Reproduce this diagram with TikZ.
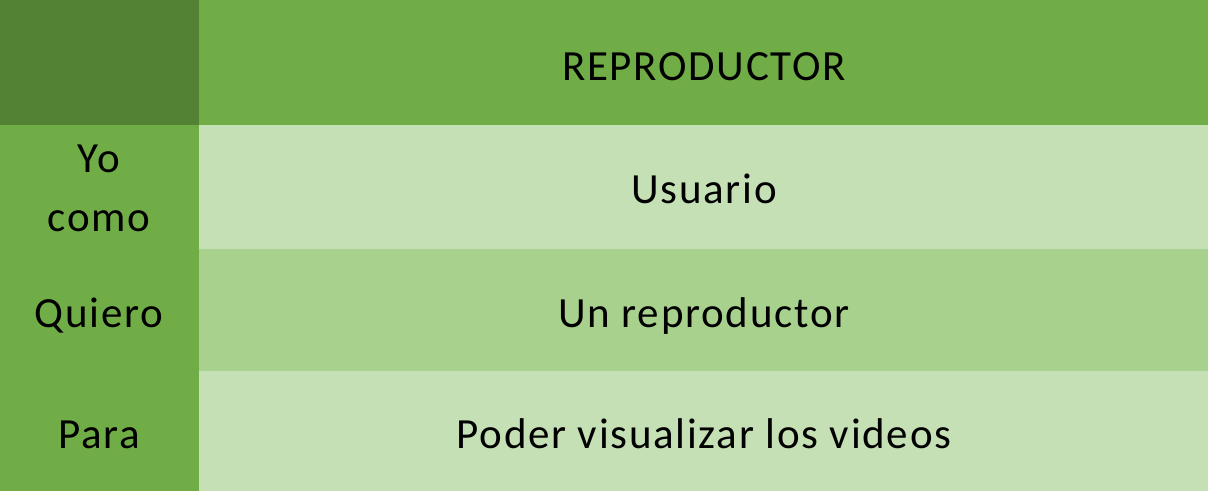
\documentclass[tikz,border=0pt]{standalone}
\usepackage{fontspec}
\setmainfont[LetterSpace=4]{Carlito}
\usepackage{tikz}

\definecolor{darkgreen}{HTML}{548235}
\definecolor{midgreen}{HTML}{70AD47}
\definecolor{lightgreen}{HTML}{C5E0B4}
\definecolor{palegreen}{HTML}{A9D18E}

\tikzset{cell/.style={anchor=base,font=\fontsize{43}{59}\selectfont,align=center}}

\begin{document}
\begin{tikzpicture}[x=1pt,y=-1pt]
\useasboundingbox (0,0) rectangle (1208,491);
\fill[darkgreen] (0,0) rectangle (199,125);
\fill[midgreen] (199,0) rectangle (1208,125);
\fill[midgreen] (0,125) rectangle (199,491);
\fill[lightgreen] (199,125) rectangle (1208,249);
\fill[palegreen] (199,249) rectangle (1208,371);
\fill[lightgreen] (199,371) rectangle (1208,491);
\node[cell] (title) at (704,80) {REPRODUCTOR};
\node[cell] (yo) at (99,172) {Yo};
\node[cell] (como) at (99,231) {como};
\node[cell] (quiero) at (99,327) {Quiero};
\node[cell] (para) at (99,448) {Para};
\node[cell] (usuario) at (704,203) {Usuario};
\node[cell] (repro) at (704,327) {Un reproductor};
\node[cell] (videos) at (704,448) {Poder visualizar los videos};
\end{tikzpicture}
\end{document}
